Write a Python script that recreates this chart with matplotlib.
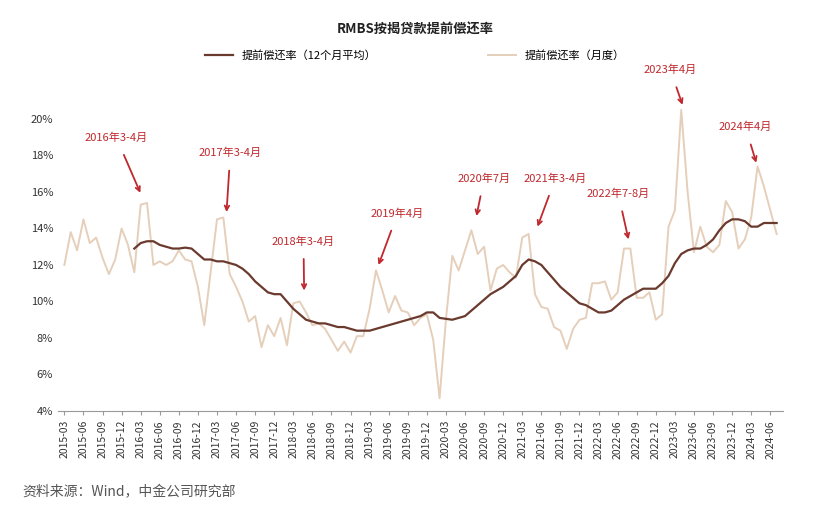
import matplotlib.pyplot as plt
import pandas as pd

plt.rcParams['font.family'] = ['Noto Sans CJK SC']

# 月度提前偿还率（%），2015-03 起
monthly = [12.0, 13.8, 12.8, 14.5, 13.2, 13.5, 12.4, 11.5, 12.3, 14.0, 13.1, 11.6,
           15.3, 15.4, 12.0, 12.2, 12.0, 12.2, 12.8, 12.3, 12.2, 10.8, 8.7, 11.6,
           14.5, 14.6, 11.5, 10.8, 10.0, 8.9, 9.2, 7.5, 8.7, 8.1, 9.1, 7.6,
           9.9, 10.0, 9.4, 8.7, 8.8, 8.5, 7.9, 7.3, 7.8, 7.2, 8.1, 8.1,
           9.6, 11.7, 10.6, 9.4, 10.3, 9.5, 9.4, 8.7, 9.1, 9.3, 7.9, 4.7,
           9.0, 12.5, 11.7, 12.8, 13.9, 12.6, 13.0, 10.6, 11.8, 12.0, 11.6, 11.3,
           13.5, 13.7, 10.4, 9.7, 9.6, 8.6, 8.4, 7.4, 8.5, 9.0, 9.1, 11.0,
           11.0, 11.1, 10.1, 10.5, 12.9, 12.9, 10.2, 10.2, 10.5, 9.0, 9.3, 14.1,
           15.0, 20.5, 16.0, 12.7, 14.1, 13.0, 12.7, 13.1, 15.5, 14.9, 12.9, 13.4,
           14.6, 17.4, 16.3, 15.0, 13.7]
# 12个月平均，2016-02 起
ma12 = [12.9, 13.2, 13.3, 13.3, 13.1, 13.0, 12.9, 12.9, 12.95, 12.9, 12.6, 12.3,
        12.3, 12.2, 12.2, 12.1, 12.0, 11.8, 11.5, 11.1, 10.8, 10.5, 10.4, 10.4,
        10.0, 9.6, 9.3, 9.0, 8.9, 8.8, 8.8, 8.7, 8.6, 8.6, 8.5, 8.4,
        8.4, 8.4, 8.5, 8.6, 8.7, 8.8, 8.9, 9.0, 9.1, 9.2, 9.4, 9.4,
        9.1, 9.05, 9.0, 9.1, 9.2, 9.5, 9.8, 10.1, 10.4, 10.6, 10.8, 11.1,
        11.4, 12.0, 12.3, 12.2, 12.0, 11.6, 11.2, 10.8, 10.5, 10.2, 9.9, 9.8,
        9.6, 9.4, 9.4, 9.5, 9.8, 10.1, 10.3, 10.5, 10.7, 10.7, 10.7, 11.0,
        11.4, 12.1, 12.6, 12.8, 12.9, 12.9, 13.1, 13.4, 13.9, 14.3, 14.5, 14.5,
        14.4, 14.1, 14.1, 14.3, 14.3, 14.3]

months = pd.period_range('2015-03', periods=len(monthly), freq='M')
x_month = list(range(len(monthly)))
x_ma = list(range(len(monthly) - len(ma12), len(monthly)))

# 标注：文字, 文字位置(月序号, %), 箭头位置
notes = [('2016年3-4月', 8.2, 18.96, 11.95, 15.95),
         ('2017年3-4月', 26.1, 18.14, 25.5, 14.9),
         ('2018年3-4月', 37.6, 13.3, 37.7, 10.6),
         ('2019年4月', 52.4, 14.82, 49.4, 12.0),
         ('2020年7月', 66.0, 16.73, 64.8, 14.68),
         ('2021年3-4月', 77.2, 16.73, 74.4, 14.1),
         ('2022年7-8月', 87.1, 15.9, 88.7, 13.4),
         ('2023年4月', 95.3, 22.68, 97.2, 20.77),
         ('2024年4月', 107.1, 19.55, 108.8, 17.6)]

fig = plt.figure(figsize=(8.3, 5.28), dpi=100)
ax = fig.add_axes([58 / 830, 117 / 528, 725 / 830, 303 / 528])

ax.plot(x_month, monthly, color='#E5CFBA', lw=1.4, label='提前偿还率（月度）')
ax.plot(x_ma, ma12, color='#6B3A2E', lw=1.6, label='提前偿还率（12个月平均）')

ax.set_xlim(-1, 113)
ax.set_ylim(4, 20.6)
ax.set_yticks(range(4, 21, 2))
ax.set_yticklabels([f'{v}%' for v in range(4, 21, 2)], fontsize=8, color='#333333')
ticks = x_month[::3]
ax.set_xticks(ticks)
ax.set_xticklabels([months[i].strftime('%Y-%m') for i in ticks], rotation=90, fontsize=7.5, color='#333333')
for s in ['top', 'right', 'left']:
    ax.spines[s].set_visible(False)
ax.spines['bottom'].set_color('#999999')
ax.tick_params(axis='y', length=0)
ax.tick_params(axis='x', length=3, color='#999999')

for txt, tx, ty, ax_, ay in notes:
    ax.annotate(txt, xy=(ax_, ay), xytext=(tx, ty), ha='center', va='center',
                fontsize=8, color='#C0282D', annotation_clip=False,
                arrowprops=dict(arrowstyle='->', color='#C0282D', lw=1.3, shrinkA=7, shrinkB=0))

h, l = ax.get_legend_handles_labels()
fig.legend([h[1], h[0]], [l[1], l[0]], loc='center', bbox_to_anchor=(0.5, 55 / 528 * -1 + 1),
           ncol=2, frameon=False, fontsize=8, columnspacing=10, handlelength=2.5)
fig.text(0.5, 1 - 30 / 528, 'RMBS按揭贷款提前偿还率', ha='center', va='center',
         fontsize=9.5, fontweight='bold', color='#222222')
fig.text(22 / 830, 1 - 492 / 528, '资料来源：Wind，中金公司研究部', ha='left', va='center',
         fontsize=10, color='#555555')

fig.savefig('out.png', dpi=100)
